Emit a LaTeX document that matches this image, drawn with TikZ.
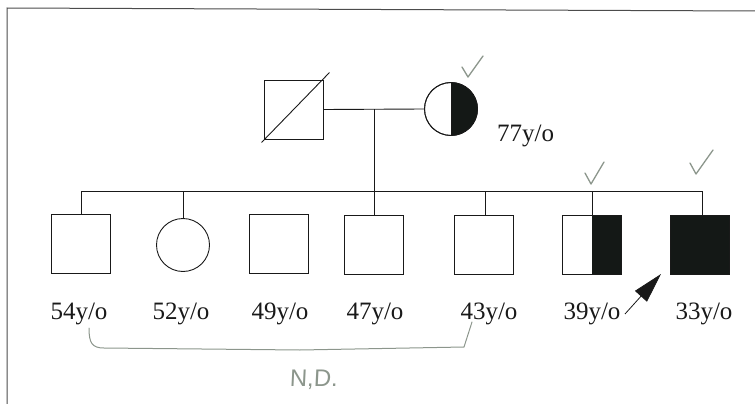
\documentclass[tikz,border=0pt]{standalone}
\usepackage{fontspec}
\setmainfont{Liberation Serif}
\newfontfamily\handfont{Liberation Sans}
\usetikzlibrary{arrows.meta,calc}
\definecolor{ink}{RGB}{25,25,25}
\definecolor{fillk}{RGB}{20,24,22}
\definecolor{pencil}{RGB}{140,150,140}
\begin{document}
\begin{tikzpicture}[x=1pt,y=-1pt,
  male/.style={draw=ink,line width=0.9pt,minimum size=59pt,inner sep=0pt,rectangle},
  female/.style={draw=ink,line width=0.9pt,minimum size=53pt,inner sep=0pt,circle},
  age/.style={anchor=base,font=\fontsize{25}{30}\selectfont,text=ink,inner sep=0pt},
  link/.style={draw=ink,line width=0.9pt},
  tick/.style={draw=pencil,line width=1.3pt,line cap=round,line join=round},
  frame/.style={draw=black!70,line width=1pt}]
\useasboundingbox (0,0) rectangle (755,404);
% frame
\coordinate (fa) at (7,404);
\coordinate (fb) at (7,8);
\coordinate (fc) at (755,11);
\draw[frame] (fa) -- (fb) -- (fc);
% parents
\node[male] (f) at (293.5,109.5) {};
\node[female] (m) at (451,109) {};
\begin{scope}
  \clip (451,70) rectangle (490,150);
  \fill[fillk] (m.center) circle[radius=26.5pt];
\end{scope}
\node[female] at (m.center) {};
\draw[link] (m.north) -- (m.south);
\draw[link] ($(f.south west)+(-2,3)$) -- ($(f.north east)+(6,-7)$);
\draw[link] (f.east) -- (m.west);
\node[age,anchor=base west] (a0) at (497,141) {77y/o};
% children
\node[male] (c1) at (81,244) {};
\node[female] (c2) at (183,245) {};
\node[male] (c3) at (279,244) {};
\node[male] (c4) at (374,244.5) {};
\node[male] (c5) at (484,244.5) {};
\node[male] (c6) at (592,244.5) {};
\fill[fillk] (c6.north) rectangle (c6.south east);
\node[male] at (c6.center) {};
\node[male,fill=fillk] (c7) at (700,244.5) {};
% sibship
\coordinate (desc) at (c4 |- m.center);
\coordinate (sibR) at (702,191);
\draw[link] (c1.north) |- (sibR) -- ($(c7.north)+(2,0)$);
\draw[link] (c2.north) -- (c2.north |- sibR);
\draw[link] (desc) -- (c4.north);
\draw[link] ($(c5.north)+(1,0)$) -- ($(c5.north |- sibR)+(1,0)$);
\draw[link] (c6.north) -- (c6.north |- sibR);
% ages
\node[age] (a1) at (79,319) {54y/o};
\node[age] (a2) at (181,319) {52y/o};
\node[age] (a3) at (280,319) {49y/o};
\node[age] (a4) at (375,319) {47y/o};
\node[age] (a5) at (489,319) {43y/o};
\node[age] (a6) at (592,319) {39y/o};
\node[age] (a7) at (704,319) {33y/o};
% proband arrow
\coordinate (arT) at (625,314);
\coordinate (arH) at (661,274);
\draw[ink,line width=0.8pt,-{Triangle[length=30pt,width=16pt]}] (arT) -- (arH);
% pencil ticks
\draw[tick] (462,67) -- (468,77) -- (483,56);
\draw[tick] (585,173) -- (591,184) -- (604,162);
\draw[tick] (690,163) -- (696,174) -- (713,150);
% pencil bracket
\coordinate (bL) at (89,328);
\coordinate (bR) at (472,322);
\draw[tick,line width=1pt] (bL) .. controls (89,343) and (92,348) .. (104,348)
  -- (300,350) -- (464,347) -- (bR);
\node[text=pencil,font=\handfont\fontsize{24}{28}\selectfont,xslant=0.05] (nd) at (314,380) {N,D.};
\end{tikzpicture}
\end{document}
